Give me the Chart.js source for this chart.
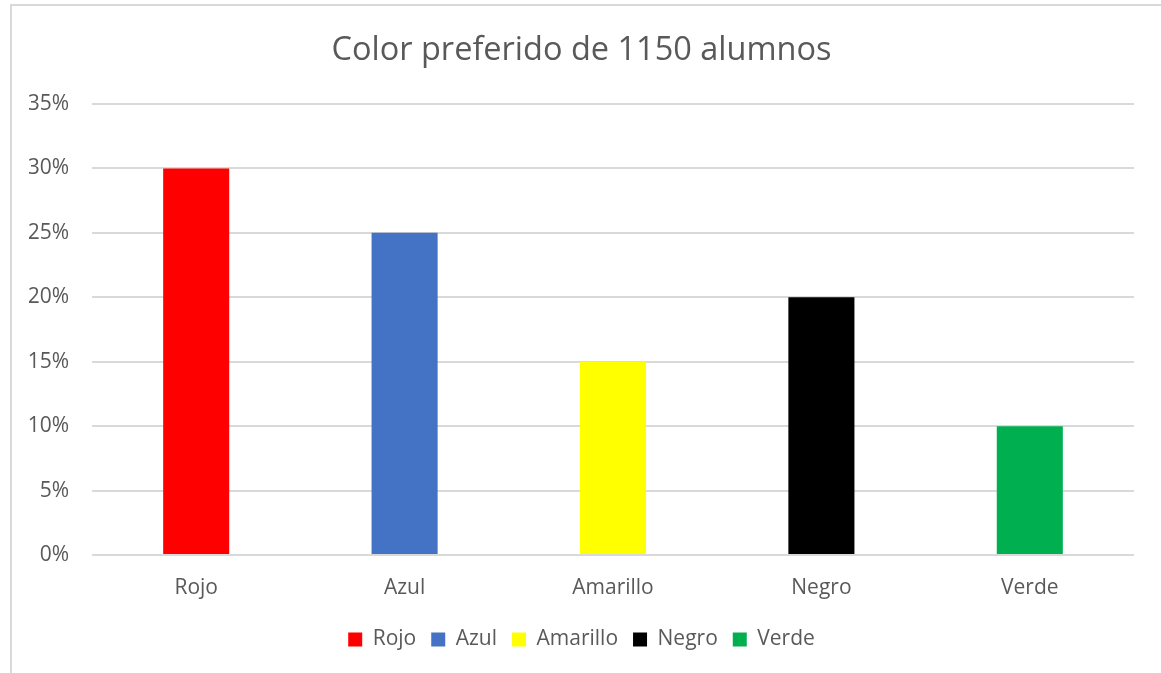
<!DOCTYPE html>
<html>
<head>
<meta charset="utf-8">
<script src="https://cdn.jsdelivr.net/npm/chart.js@4"></script>
<style>
    body { margin: 0; background: #fff; overflow: hidden; }
    #frame { position: absolute; left: 10px; top: 4px; width: 1200px; height: 720px; border: 2px solid #d9d9d9; box-sizing: border-box; }
    #wrap { position: absolute; left: 0; top: 0; width: 1161px; height: 673px; }
</style>
</head>
<body>
<div id="frame"></div>
<div id="wrap"><canvas id="colorChart"></canvas></div>
<script>
// Chart data
const chartTitle = 'Color preferido de 1150 alumnos';
const categories = ['Rojo', 'Azul', 'Amarillo', 'Negro', 'Verde'];
const percentages = [30, 25, 15, 20, 10];
const barColors = ['#ff0000', '#4472c4', '#ffff00', '#000000', '#00b050'];

const textColor = '#595959';
const fontFamily = '"Open Sans", sans-serif';

const ctx = document.getElementById('colorChart');

new Chart(ctx, {
    type: 'bar',
    data: {
        labels: categories,
        datasets: [{
            label: chartTitle,
            data: percentages,
            backgroundColor: barColors,
            borderWidth: 0,
            barPercentage: 1,
            categoryPercentage: 0.317
        }]
    },
    options: {
        responsive: true,
        maintainAspectRatio: false,
        animation: false,
        layout: {
            padding: { left: 29, right: 27, top: 0, bottom: 13 }
        },
        plugins: {
            title: {
                display: true,
                text: chartTitle,
                color: textColor,
                font: { family: fontFamily, size: 32.5, weight: 'normal' },
                padding: { top: 31, bottom: 34 }
            },
            legend: {
                position: 'bottom',
                labels: {
                    color: textColor,
                    font: { family: fontFamily, size: 21 },
                    boxWidth: 14,
                    boxHeight: 14,
                    padding: 15,
                    generateLabels: function() {
                        return categories.map((name, i) => ({
                            text: name,
                            fillStyle: barColors[i],
                            strokeStyle: barColors[i],
                            lineWidth: 0,
                            fontColor: textColor,
                            hidden: false,
                            index: i
                        }));
                    }
                },
                onClick: null
            },
            tooltip: { enabled: false }
        },
        scales: {
            x: {
                grid: { display: false },
                border: { display: false },
                ticks: {
                    color: textColor,
                    font: { family: fontFamily, size: 21 },
                    padding: 12
                },
                afterFit: function(scale) { scale.height = 59; }
            },
            y: {
                min: 0,
                max: 35,
                grid: { color: '#d9d9d9', lineWidth: 2, drawTicks: false },
                border: { display: false },
                ticks: {
                    stepSize: 5,
                    color: textColor,
                    font: { family: fontFamily, size: 21 },
                    padding: 23,
                    callback: function(value) { return value + '%'; }
                },
                afterFit: function(scale) { scale.width = 63; }
            }
        }
    }
});
</script>
</body>
</html>
